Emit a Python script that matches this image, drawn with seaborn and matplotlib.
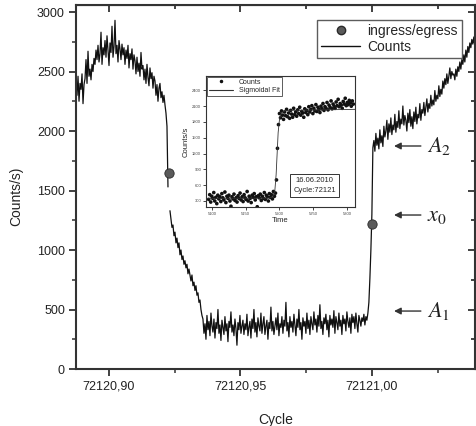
import numpy as np
import pandas as pd
import matplotlib
matplotlib.use("Agg")
import matplotlib.pyplot as plt
from matplotlib.lines import Line2D
from matplotlib.ticker import MultipleLocator
import seaborn as sns

# light curve of cycle 72121, one reading every sample_step cycles
cycle_start = 72120.8875
sample_step = 0.00038

counts_before = [2420, 2300, 2460, 2250, 2400, 2350, 2480, 2230, 2390,
                 2440, 2600, 2400, 2670, 2460, 2520, 2430, 2560, 2500, 2610,
                 2560, 2680, 2600, 2720, 2580, 2650, 2830, 2560, 2700, 2640,
                 2760, 2620, 2800, 2680, 2550, 2740, 2660, 2880, 2620, 2710,
                 2930, 2650, 2720, 2580, 2760, 2690, 2600, 2730, 2640, 2700,
                 2560, 2680, 2610, 2720, 2530, 2650, 2600, 2690, 2520, 2640,
                 2590, 2480, 2620, 2500, 2570, 2460, 2660, 2520, 2550, 2430,
                 2520, 2400, 2560, 2450, 2380, 2530, 2440, 2490, 2360, 2460,
                 2420, 2300, 2390, 2250, 2360, 2400, 2280, 2330, 2240, 2300,
                 2220, 2150, 2040, 1530]
counts_ingress = [1330, 1260, 1190, 1210, 1120, 1150, 1060, 1100, 1020, 1060,
                  960, 1000, 920, 950, 880, 910, 850, 880, 800, 840,
                  790, 740, 790, 700, 730, 660, 700, 620, 640, 560,
                  580, 500, 450]
counts_bottom = [420, 300, 380, 250, 450, 330, 400, 280, 470, 360,
                 310, 420, 260, 390, 340, 500, 300, 370, 240, 410,
                 350, 290, 440, 320, 380, 230, 400, 350, 480, 310,
                 370, 280, 420, 340, 200, 390, 330, 450, 300, 360,
                 410, 290, 380, 330, 460, 280, 350, 400, 260, 420,
                 340, 500, 310, 390, 270, 430, 360, 320, 470, 300,
                 380, 440, 290, 360, 410, 250, 390, 340, 520, 320,
                 400, 290, 360, 430, 330, 470, 280, 380, 350, 440,
                 300, 410, 360, 560, 320, 390, 270, 440, 350, 400,
                 310, 460, 370, 280, 420, 350, 500, 330, 390, 250,
                 430, 360, 400, 300, 470, 340, 410, 290, 440, 380,
                 330, 480, 370, 420, 310, 450, 360, 540, 340, 400,
                 290, 430, 380, 460, 330, 410, 270, 450, 370, 420,
                 350, 490, 300, 440, 390, 330, 470, 360, 410, 290,
                 450, 380, 420, 320, 480, 400, 350, 430, 300, 460,
                 390, 440, 340, 470, 380, 310, 450, 410, 360, 430,
                 400, 460, 370, 440, 410, 470]
counts_egress = [560, 760, 1000, 1300, 1860]
counts_after = [1920, 1830, 1980, 1880, 1940, 1850, 2010, 1900, 1960, 1870,
                2040, 1950, 2000, 2090, 1930, 2060, 1990, 2110, 1970, 2050,
                2010, 2140, 1990, 2080, 2030, 2170, 2020, 2100, 2060, 2210,
                2050, 2130, 2090, 2000, 2150, 2070, 2180, 2040, 2120, 2020,
                2160, 2080, 2200, 2060, 2140, 2110, 2230, 2090, 2180, 2150,
                2240, 2130, 2200, 2270, 2160, 2230, 2190, 2300, 2210, 2260,
                2220, 2340, 2250, 2300, 2270, 2380, 2290, 2350, 2310, 2420,
                2360, 2440, 2390, 2480, 2400, 2460, 2530, 2440, 2500, 2470,
                2480, 2430, 2520, 2460, 2540, 2500, 2580, 2520, 2600, 2560,
                2640, 2580, 2680, 2620, 2710, 2660, 2740, 2700, 2770, 2730,
                2790, 2750, 2800]

contact_cycle = [72120.9228, 72121.0002]
contact_counts = [1650, 1220]

# inset: zoom on the egress, one reading every 1.5 s
time_start = 5095
time_step = 1.5
inset_counts = [330, 420, 280, 390, 350, 460, 300, 370, 250, 410,
                340, 380, 290, 440, 360, 320, 470, 270, 390, 350,
                410, 300, 200, 380, 340, 430, 310, 360, 280, 400,
                350, 450, 320, 380, 290, 420, 360, 330, 480, 300,
                390, 350, 270, 410, 370, 440, 320, 380, 190, 400,
                360, 430, 310, 390, 350, 460, 330, 410, 380, 300,
                440, 370, 420, 340, 480, 390, 450,
                700, 1300, 1750,
                1960, 1880, 2010, 1930, 1850, 1990, 1920, 2040, 1900, 1970,
                1870, 2020, 1950, 1890, 2060, 1940, 1990, 1910, 2030, 1960,
                2080, 1930, 2000, 1970, 1890, 2050, 1980, 2020, 1940, 2090,
                1990, 2040, 2110, 1960, 2060, 2010, 2130, 2000, 2080, 2040,
                1980, 2100, 2050, 2150, 2020, 2090, 2060, 2170, 2030, 2120,
                2080, 2200, 2050, 2140, 2100, 2060, 2180, 2110, 2230, 2090,
                2150, 2120, 2060, 2190, 2140, 2250, 2110, 2170, 2130, 2210,
                2160, 2100, 2200, 2140]
fit_time = [5091, 5185, 5190, 5193, 5195, 5196.5, 5198, 5200, 5203, 5210, 5312]
fit_counts = [350, 355, 380, 480, 800, 1200, 1600, 1850, 1980, 2020, 2040]

x_ticks = [72120.90, 72120.95, 72121.00]
x_labels = ["72120,90", "72120,95", "72121,00"]

sns.set_style("ticks")
plt.rcParams["font.family"] = ["Liberation Sans", "DejaVu Sans"]
plt.rcParams["mathtext.fontset"] = "stix"

# one row per reading, the missing reading splits the curve in two
n_before = len(counts_before)
seg1 = pd.DataFrame({"cycle": cycle_start + sample_step * np.arange(n_before),
                     "counts": counts_before, "segment": 0})
rest = counts_ingress + counts_bottom + counts_egress + counts_after
seg2 = pd.DataFrame({"cycle": cycle_start + sample_step * (n_before + 1 + np.arange(len(rest))),
                     "counts": rest, "segment": 1})
curve = pd.concat([seg1, seg2], ignore_index=True)

fig = plt.figure(figsize=(4.76, 4.26), dpi=100)
ax = fig.add_axes([0.1597, 0.1338, 0.8383, 0.8545])

sns.lineplot(data=curve, x="cycle", y="counts", units="segment", estimator=None,
             sort=False, color="#111111", lw=0.9, legend=False, ax=ax)
sns.scatterplot(x=contact_cycle, y=contact_counts, s=45, color="#5a5a5a",
                edgecolor="#2a2a2a", linewidth=0.6, zorder=5, ax=ax)

ax.set_xlim(72120.8875, 72121.0392)
ax.set_ylim(0, 3059)
ax.set_xticks(x_ticks, x_labels)
ax.xaxis.set_minor_locator(MultipleLocator(0.025))
ax.yaxis.set_major_locator(MultipleLocator(500))
ax.yaxis.set_minor_locator(MultipleLocator(250))
ax.tick_params(which="major", direction="out", length=5, width=1.3,
               labelsize=9, labelcolor="#222222", color="#333333", pad=3)
ax.tick_params(which="minor", direction="out", length=3, width=1.1, color="#333333")
for s in ax.spines.values():
    s.set_linewidth(1.5)
    s.set_color("#333333")

# mirrored ticks on top and right, pointing in
top = ax.secondary_xaxis("top")
top.set_xticks(x_ticks)
top.xaxis.set_minor_locator(MultipleLocator(0.025))
top.tick_params(which="both", direction="in", labeltop=False, width=1.3, color="#333333")
top.tick_params(which="major", length=5)
top.tick_params(which="minor", length=3)
right = ax.secondary_yaxis("right")
right.yaxis.set_major_locator(MultipleLocator(500))
right.yaxis.set_minor_locator(MultipleLocator(250))
right.tick_params(which="both", direction="in", labelright=False, width=1.3, color="#333333")
right.tick_params(which="major", length=5)
right.tick_params(which="minor", length=3)

ax.set_xlabel("Cycle", fontsize=10, color="#222222")
ax.set_ylabel("Counts/s)", fontsize=10, color="#222222")
ax.xaxis.set_label_coords(0.5, -0.121)
ax.yaxis.set_label_coords(-0.133, 0.475)

handles = [Line2D([], [], ls="none", marker="o", ms=6, mfc="#5a5a5a", mec="#2a2a2a"),
           Line2D([], [], color="#111111", lw=1)]
leg = ax.legend(handles, ["ingress/egress", "Counts"], loc="upper right",
                bbox_to_anchor=(0.984, 0.978), fontsize=10, frameon=True,
                fancybox=False, edgecolor="#333333", handlelength=2.8,
                borderpad=0.3, labelspacing=0.15, handletextpad=0.5)
leg.get_frame().set_linewidth(1.0)

# fit parameters marked on the right
for label, y in [("$A_2$", 1874), ("$x_0$", 1294), ("$A_1$", 487)]:
    ax.annotate("", xy=(72121.0084, y), xytext=(72121.0186, y),
                arrowprops=dict(arrowstyle="-|>", color="#333333", lw=1,
                                mutation_scale=10, shrinkA=0, shrinkB=0))
    ax.text(72121.0208, y, label, fontsize=16, ha="left", va="center", color="#222222")

# inset
axi = fig.add_axes([0.4328, 0.5141, 0.313, 0.3075])
inset_time = time_start + time_step * np.arange(len(inset_counts))
sns.scatterplot(x=inset_time, y=inset_counts, s=7, color="#111111",
                edgecolor="none", ax=axi)
sns.lineplot(x=fit_time, y=fit_counts, color="#333333", lw=0.6, ax=axi)
axi.set_xlim(5091, 5312)
axi.set_ylim(186, 2673)
axi.set_xticks([5100, 5150, 5200, 5250, 5300])
axi.set_yticks([300, 600, 900, 1200, 1500, 1800, 2100, 2400])
axi.tick_params(direction="out", length=2, width=0.6, labelsize=3,
                labelcolor="#444444", pad=1.5)
for s in axi.spines.values():
    s.set_linewidth(0.8)
    s.set_color("#333333")
axi.set_xlabel("Time", fontsize=5.5, labelpad=1)
axi.set_ylabel("Counts/s", fontsize=5.5, labelpad=2)
ih = [Line2D([], [], ls="none", marker="o", ms=1.5, color="#111111"),
      Line2D([], [], color="#333333", lw=0.8)]
il = axi.legend(ih, ["Counts", "Sigmoidal Fit"], loc="upper left", fontsize=5,
                frameon=True, fancybox=False, edgecolor="#333333",
                handlelength=3.5, borderpad=0.3, labelspacing=0.2,
                borderaxespad=0.1)
il.get_frame().set_linewidth(0.7)
axi.text(0.73, 0.165, "16.06.2010\nCycle:72121", transform=axi.transAxes,
         fontsize=5.5, ha="center", va="center", linespacing=1.5,
         bbox=dict(boxstyle="square,pad=0.4", fc="white", ec="#333333", lw=0.7))

fig.savefig("out.png", dpi=100)
